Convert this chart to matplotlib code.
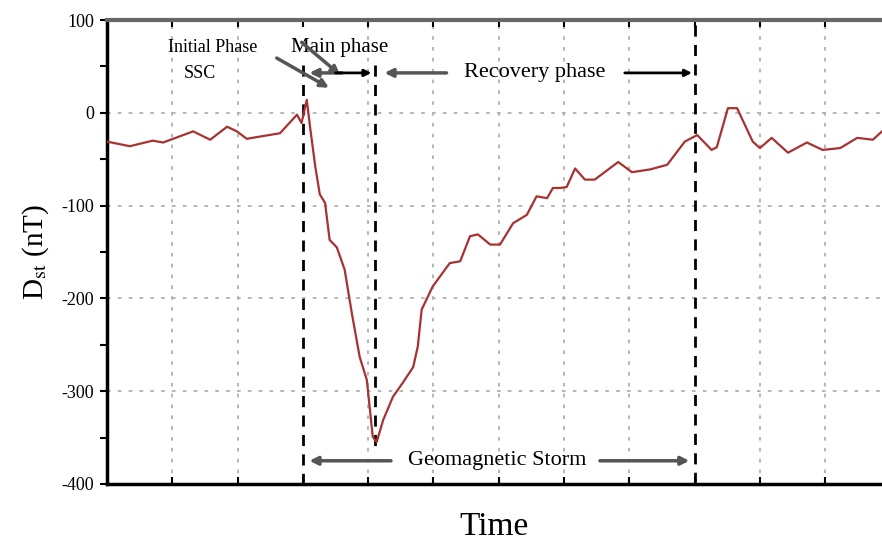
import numpy as np
import matplotlib.pyplot as plt

# %% data (time in grid units, Dst in nT)
time = [0.00, 0.35, 0.70, 0.86, 1.32, 1.58, 1.84, 1.99, 2.14, 2.65, 2.91, 2.98,
        3.06, 3.11, 3.19, 3.26, 3.34, 3.41, 3.52, 3.64, 3.75, 3.87, 3.98, 4.07,
        4.13, 4.23, 4.38, 4.53, 4.69, 4.76, 4.82, 4.99, 5.25, 5.41, 5.56, 5.68,
        5.87, 6.02, 6.22, 6.43, 6.58, 6.74, 6.83, 6.94, 7.04, 7.17, 7.32, 7.47,
        7.83, 8.04, 8.32, 8.58, 8.85, 9.04, 9.26, 9.34, 9.51, 9.65, 9.89, 10.00,
        10.18, 10.43, 10.72, 10.96, 11.23, 11.49, 11.73, 11.87]
dst = [-31, -36, -30, -32, -20, -29, -15, -20, -28, -22, -2, -11,
       14, -15, -58, -88, -97, -137, -145, -169, -216, -263, -288, -349,
       -355, -331, -306, -291, -274, -252, -212, -187, -162, -160, -133, -131,
       -142, -142, -119, -110, -90, -92, -81, -81, -80, -60, -72, -72,
       -53, -64, -61, -56, -31, -24, -40, -37, 5, 5, -31, -38,
       -27, -43, -32, -40, -38, -27, -29, -20]

yticks = [100, 0, -100, -200, -300, -400]
ssc_time = 3.0
main_end = 4.1
recovery_end = 9.0

# %% plot
plt.rcParams["font.family"] = ["Liberation Serif", "DejaVu Serif"]
plt.rcParams["mathtext.fontset"] = "stix"

fig = plt.figure(figsize=(8.82, 5.41), dpi=100)
ax = fig.add_axes([0.1213, 0.1054, 0.8787, 0.8576])

# dotted grid
for gx in range(1, 12):
    if gx in (3, 9):
        continue
    ax.axvline(gx, color="#b0b0b0", ls=(0, (2, 4)), lw=1.3, zorder=1)
for gy in [0, -100, -200, -300]:
    ax.axhline(gy, color="#b0b0b0", ls=(0, (2, 4)), lw=1.3, zorder=1)

ax.plot(time, dst, color="#a83232", lw=1.6, zorder=3)

# phase boundaries
ax.plot([ssc_time, ssc_time], [52, -400], color="black", ls=(0, (4, 3)), lw=2, zorder=2)
ax.plot([main_end, main_end], [52, -362], color="black", ls=(0, (4, 3)), lw=2, zorder=2)
ax.plot([recovery_end, recovery_end], [95, -400], color="black", ls=(0, (4, 3)), lw=2, zorder=2)

grey = "#555555"
arrow = dict(arrowstyle="-|>", color=grey, lw=2.5, mutation_scale=12, shrinkA=0, shrinkB=0)
black_arrow = dict(arrowstyle="-|>", color="black", lw=2, mutation_scale=10,
                   shrinkA=0, shrinkB=0)

# labels and arrows at the top
ax.text(1.62, 70, "Initial Phase", ha="center", va="center", fontsize=13)
ax.text(1.42, 42, "SSC", ha="center", va="center", fontsize=13)
ax.annotate("", xy=(3.4, 27), xytext=(2.60, 59), arrowprops=arrow)
ax.text(3.57, 70, "Main phase", ha="center", va="center", fontsize=15)
ax.annotate("", xy=(3.57, 41), xytext=(2.98, 76), arrowprops=arrow)
ax.annotate("", xy=(3.1, 43), xytext=(3.6, 43), arrowprops=arrow)
ax.annotate("", xy=(4.05, 43), xytext=(3.5, 43), arrowprops=black_arrow)
ax.annotate("", xy=(4.25, 43), xytext=(5.2, 43), arrowprops=arrow)
ax.text(6.55, 43, "Recovery phase", ha="center", va="center", fontsize=16)
ax.annotate("", xy=(8.96, 43), xytext=(7.93, 43), arrowprops=black_arrow)

# storm duration at the bottom
ax.text(5.98, -375, "Geomagnetic Storm", ha="center", va="center", fontsize=16)
ax.annotate("", xy=(3.1, -375), xytext=(4.35, -375), arrowprops=arrow)
ax.annotate("", xy=(8.92, -375), xytext=(7.55, -375), arrowprops=arrow)

# axes
ax.set_xlim(0, 11.87)
ax.set_ylim(-400, 100)
ax.set_yticks(yticks)
ax.set_yticklabels([str(v) for v in yticks], fontsize=13)
ax.set_yticks(np.arange(-350, 100, 100), minor=True)
ax.set_xticks(np.arange(0, 12, 1))
ax.tick_params(axis="x", which="major", direction="in", length=5, width=1.5,
               top=True, bottom=True, labelbottom=False)
ax.tick_params(axis="y", which="both", direction="out", length=5, width=1.5, pad=4)

for side in ["left", "bottom"]:
    ax.spines[side].set_linewidth(2.5)
ax.spines["top"].set_linewidth(3)
ax.spines["top"].set_color("#666666")
ax.spines["right"].set_visible(False)

ax.set_ylabel(r"D$_{\mathrm{st}}$ (nT)", fontsize=21, labelpad=8)
ax.set_xlabel("Time", fontsize=24, labelpad=20)

plt.savefig("out.png", dpi=100)
